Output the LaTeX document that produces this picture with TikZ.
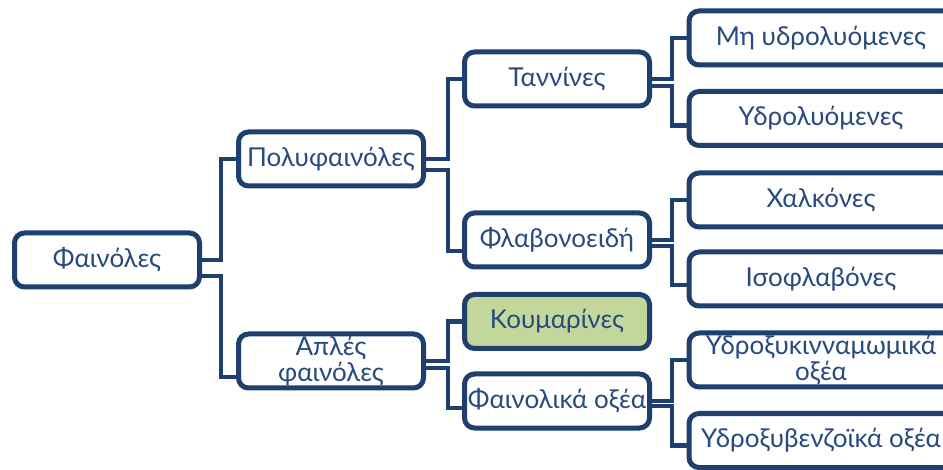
\documentclass[tikz,border=0pt]{standalone}
\usepackage{fontspec}
\setmainfont{Lato}
\definecolor{linec}{RGB}{31,63,110}
\definecolor{txtc}{RGB}{40,74,126}
\definecolor{greenc}{RGB}{195,214,155}
\tikzset{
  box/.style={draw=linec, line width=5pt, rounded corners=10pt, fill=white,
    minimum width=185pt, minimum height=54pt, inner sep=0pt, align=center,
    text=txtc, font=\fontsize{26}{26}\selectfont},
  widebox/.style={box, minimum width=264pt},
  conn/.style={draw=linec, line width=4.5pt}
}
\begin{document}
\begin{tikzpicture}[x=1pt,y=-1pt]
\useasboundingbox (0,0) rectangle (943,470);
\clip (0,0) rectangle (943,470);
\fill[white] (0,0) rectangle (943,470);
% level 0
\node[box] (fen) at (107,260) {Φαινόλες};
% level 1
\node[box] (poly) at (331,159) {Πολυφαινόλες};
\node[box] (apl) at (331,361) {Απλές\\φαινόλες};
% level 2
\node[box] (tan) at (557,79) {Ταννίνες};
\node[box] (flav) at (557,240) {Φλαβονοειδή};
\node[box, fill=greenc] (kou) at (557,321.5) {Κουμαρίνες};
\node[box] (fox) at (557,401) {Φαινολικά οξέα};
% level 3
\node[widebox] (mhy) at (821,38) {Μη υδρολυόμενες};
\node[widebox] (yd) at (821,118.5) {Υδρολυόμενες};
\node[widebox] (xal) at (821,200) {Χαλκόνες};
\node[widebox] (iso) at (821,279) {Ισοφλαβόνες};
\node[widebox] (ykin) at (821,360) {Υδροξυκινναμωμικά\\οξέα};
\node[widebox] (yben) at (821,440.5) {Υδροξυβενζοϊκά οξέα};
% connectors
\draw[conn] (fen.east) -- ++(19,0) |- (poly.west);
\draw[conn] ([yshift=-16pt]fen.east) -- ++(19,0) |- ([yshift=-16pt]apl.west);
\draw[conn] (poly.east) -- ++(22,0) |- (tan.west);
\draw[conn] ([yshift=-11pt]poly.east) -- ++(22,0) |- ([yshift=-11pt]flav.west);
\draw[conn] (apl.east) -- ++(22,0) |- (kou.west);
\draw[conn] ([yshift=-7pt]apl.east) -- ++(22,0) |- ([yshift=-7pt]fox.west);
\draw[conn] (tan.east) -- ++(20,0) |- (mhy.west);
\draw[conn] ([yshift=-7pt]tan.east) -- ++(20,0) |- ([yshift=-7pt]yd.west);
\draw[conn] (flav.east) -- ++(20,0) |- (xal.west);
\draw[conn] ([yshift=-6pt]flav.east) -- ++(20,0) |- ([yshift=-6pt]iso.west);
\draw[conn] (fox.east) -- ++(20,0) |- (ykin.west);
\draw[conn] ([yshift=-5pt]fox.east) -- ++(20,0) |- ([yshift=-5pt]yben.west);
\end{tikzpicture}
\end{document}
